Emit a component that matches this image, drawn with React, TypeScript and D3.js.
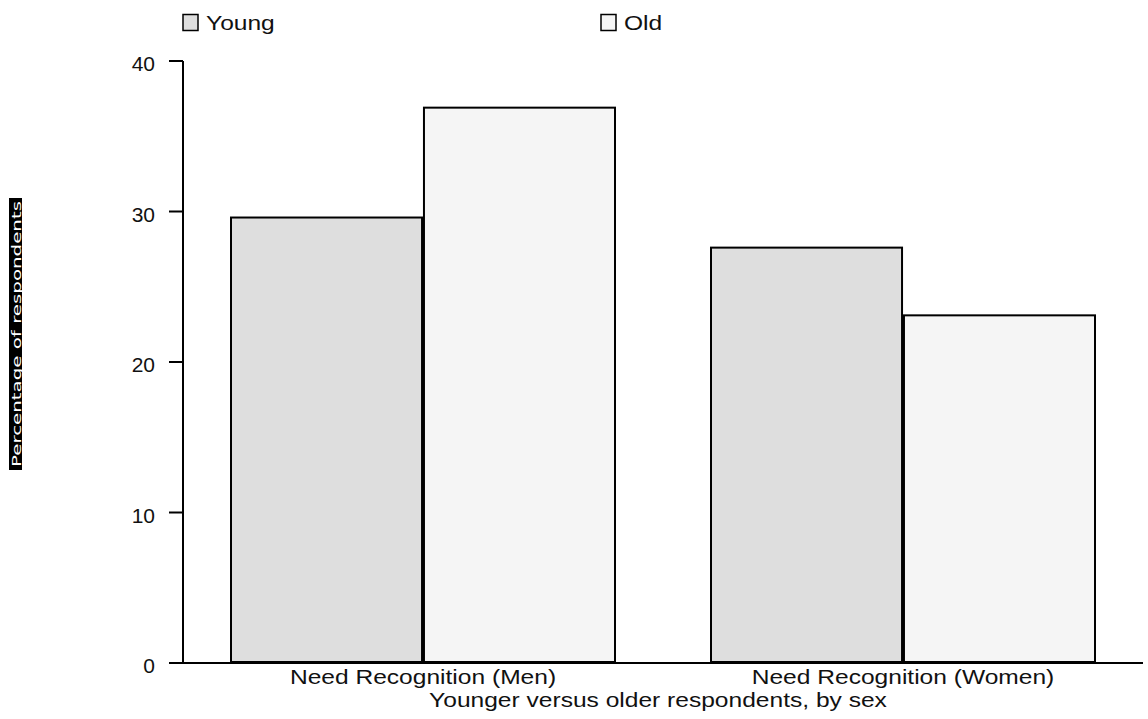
import React from "react";
import * as d3 from "d3";

const categories = ["Need Recognition (Men)", "Need Recognition (Women)"];
const seriesNames = ["Young", "Old"];
const youngValues = [29.6, 27.6];
const oldValues = [36.9, 23.1];
const yTicks = [0, 10, 20, 30, 40];
const seriesColors = ["#dedede", "#f5f5f5"];

const font = "Liberation Sans, Arial, sans-serif";
// horizontal stretch used by the reference's text
const STRETCH = 1.17;

function SText({ x, y, anchor = "start", size = 21, stretch = STRETCH, children }: any) {
  return (
    <text
      transform={`translate(${x},${y}) scale(${stretch},1)`}
      textAnchor={anchor}
      fontFamily={font}
      fontSize={size}
      fill="#111"
    >
      {children}
    </text>
  );
}

export default function App() {
  const W = 1148, H = 719;
  const left = 183, right = 1143, top = 61, bottom = 663;
  const y = d3.scaleLinear().domain([0, 40]).range([bottom, top]);
  const x0 = d3.scaleBand().domain(categories).range([left, right]).paddingInner(0.2).paddingOuter(0.1);
  const x1 = d3.scaleBand().domain(seriesNames).range([0, x0.bandwidth()]).paddingInner(0.01);
  const values = [youngValues, oldValues];
  return (
    <svg width={W} height={H} style={{ position: "absolute", left: 0, top: 0 }}>
      <rect width={W} height={H} fill="#fff" />
      {/* legend */}
      {seriesNames.map((s, i) => {
        const lx = i === 0 ? 183 : 601;
        return (
          <g key={s}>
            <rect x={lx} y={14.5} width={15} height={16} fill={seriesColors[i]} stroke="#000" strokeWidth={1.5} />
            <SText x={lx + 23} y={30}>{s}</SText>
          </g>
        );
      })}
      {/* bars */}
      {categories.map((c, ci) =>
        seriesNames.map((s, si) => {
          const v = values[si][ci];
          const bx = (x0(c) as number) + (x1(s) as number);
          return (
            <rect key={c + s} x={bx} y={y(v)} width={x1.bandwidth()} height={y(0) - y(v) - 1}
              fill={seriesColors[si]} stroke="#000" strokeWidth={2} />
          );
        })
      )}
      {/* y axis */}
      <line x1={left} x2={left} y1={top} y2={bottom} stroke="#000" strokeWidth={2} />
      {yTicks.map((t) => (
        <g key={t}>
          <line x1={left - 14} x2={left} y1={y(t)} y2={y(t)} stroke="#000" strokeWidth={2} />
          <SText x={155} y={y(t) + 10} anchor="end" size={20} stretch={1.05}>{t}</SText>
        </g>
      ))}
      {/* x axis */}
      <line x1={left - 14} x2={right} y1={bottom} y2={bottom} stroke="#000" strokeWidth={2} />
      {categories.map((c) => (
        <SText key={c} x={(x0(c) as number) + x0.bandwidth() / 2} y={684} anchor="middle">{c}</SText>
      ))}
      <SText x={658} y={707} anchor="middle">Younger versus older respondents, by sex</SText>
      {/* y label */}
      <rect x={9} y={198} width={13} height={272} fill="#000" />
      <text transform={`translate(20.5,334) rotate(-90)`} textAnchor="middle" fontFamily="DejaVu Sans, sans-serif"
        fontSize={13} fill="#fff" textLength={266} lengthAdjust="spacingAndGlyphs">Percentage of respondents</text>
    </svg>
  );
}
